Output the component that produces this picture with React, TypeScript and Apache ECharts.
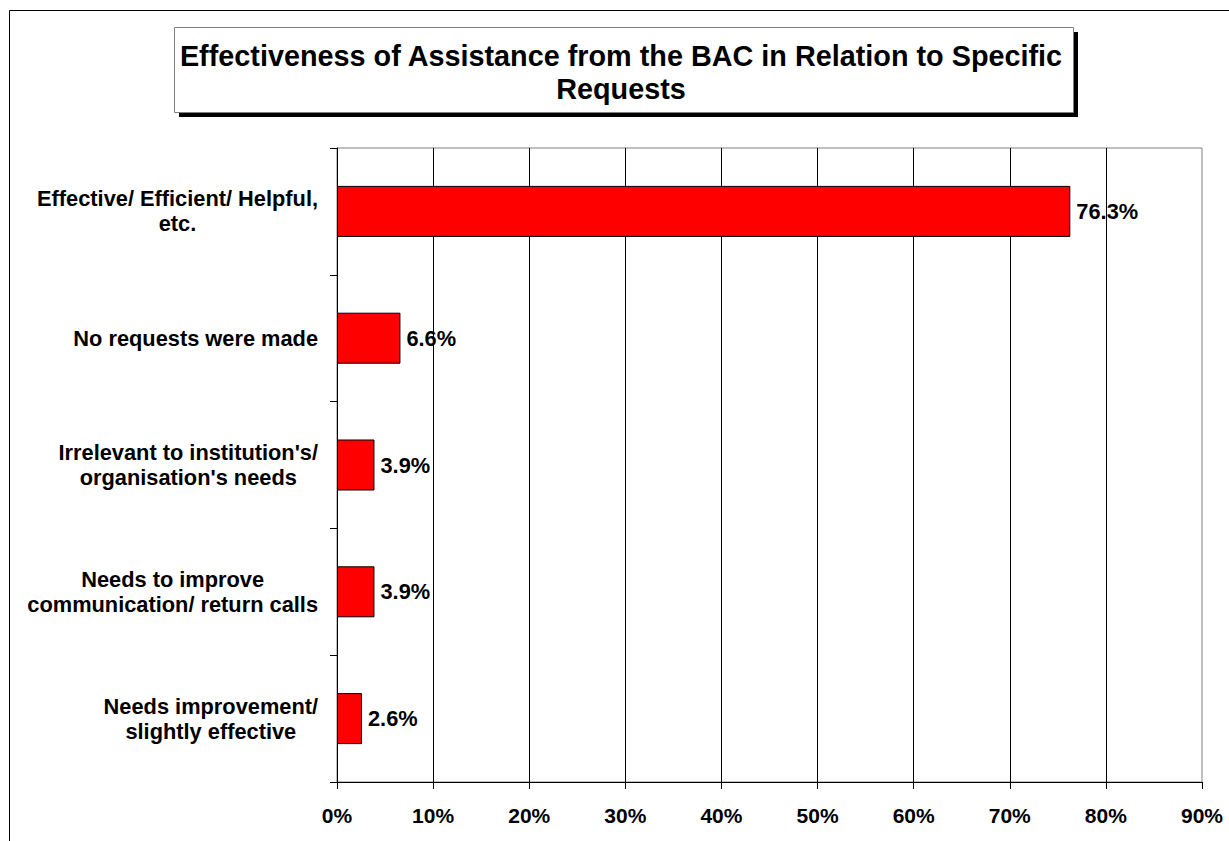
import React, { useEffect, useRef } from "react";
import * as echarts from "echarts";

// Survey responses, top to bottom
const categories = [
  "Effective/ Efficient/ Helpful,\netc.",
  "No requests were made",
  "Irrelevant to institution's/\norganisation's needs",
  "Needs to improve\ncommunication/ return calls",
  "Needs improvement/\nslightly effective",
];
const shares = [76.3, 6.6, 3.9, 3.9, 2.6];
const titleLines = [
  "Effectiveness of Assistance from the BAC in Relation to Specific",
  "Requests",
];
const axisMin = 0;
const axisMax = 90;
const axisStep = 10;

const FONT = "'Liberation Sans', Arial, Helvetica, sans-serif";

export default function App() {
  const ref = useRef<HTMLDivElement>(null);

  useEffect(() => {
    if (!ref.current) return;
    const chart = echarts.init(ref.current, undefined, { renderer: "svg" });

    chart.setOption({
      animation: false,
      backgroundColor: "#ffffff",
      grid: {
        left: 337,
        right: 27,
        top: 148,
        bottom: 59,
        show: true,
        borderColor: "#808080",
        borderWidth: 1,
        backgroundColor: "transparent",
      },
      xAxis: {
        type: "value",
        min: axisMin,
        max: axisMax,
        interval: axisStep,
        axisLine: { show: true, lineStyle: { color: "#000", width: 1 } },
        axisTick: { show: true, length: 7, lineStyle: { color: "#000" } },
        splitLine: {
          show: true,
          showMinLine: false,
          showMaxLine: false,
          lineStyle: { color: "#000", width: 1 },
        },
        axisLabel: {
          formatter: "{value}%",
          color: "#000",
          fontFamily: FONT,
          fontWeight: "bold",
          fontSize: 21,
          margin: 23,
        },
      },
      yAxis: {
        type: "category",
        inverse: true,
        data: categories,
        axisLine: { show: true, lineStyle: { color: "#000", width: 1 } },
        axisTick: { show: true, length: 7, lineStyle: { color: "#000" } },
        splitLine: { show: false },
        axisLabel: {
          margin: 19,
          align: "right",
          formatter: (v: string) =>
            v
              .split("\n")
              .map((line) => `{c|${line}}`)
              .join("\n"),
          rich: {
            c: {
              align: "center",
              color: "#000",
              fontFamily: FONT,
              fontWeight: "bold",
              fontSize: 21.8,
              lineHeight: 25,
            },
          },
        },
      },
      series: [
        {
          type: "bar",
          data: shares,
          barWidth: 51,
          itemStyle: { color: "#ff0000", borderColor: "#000", borderWidth: 1 },
          label: {
            show: true,
            position: "right",
            distance: 6,
            formatter: (p: any) => `${Number(p.value).toFixed(1)}%`,
            color: "#000",
            fontFamily: FONT,
            fontWeight: "bold",
            fontSize: 21.8,
          },
        },
      ],
      graphic: [
        // outer chart frame
        {
          type: "rect",
          shape: { x: 9.5, y: 10.5, width: 1400, height: 1000 },
          style: { fill: "none", stroke: "#000", lineWidth: 1 },
          silent: true,
        },
        // title box shadow
        {
          type: "rect",
          shape: { x: 179, y: 32, width: 899, height: 85 },
          style: { fill: "#000" },
          silent: true,
        },
        // title box
        {
          type: "rect",
          shape: { x: 174.5, y: 27.5, width: 899, height: 85 },
          style: { fill: "#fff", stroke: "#808080", lineWidth: 1 },
          silent: true,
        },
        {
          type: "text",
          x: 621,
          y: 72,
          style: {
            text: titleLines.join("\n"),
            align: "center",
            verticalAlign: "middle",
            fill: "#000",
            fontFamily: FONT,
            fontWeight: "bold",
            fontSize: 28.8,
            lineHeight: 33,
          },
          silent: true,
        },
      ],
    });

    return () => chart.dispose();
  }, []);

  return (
    <div
      ref={ref}
      style={{ position: "fixed", left: 0, top: 0, width: 1229, height: 841 }}
    />
  );
}
